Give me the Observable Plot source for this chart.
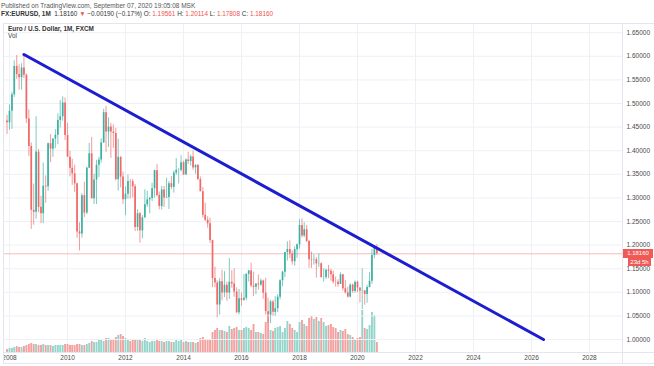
<!DOCTYPE html>
<html><head><meta charset="utf-8">
<script src="https://cdn.jsdelivr.net/npm/d3@7"></script>
<script src="https://cdn.jsdelivr.net/npm/@observablehq/plot@0.6"></script>
<style>
body{margin:0;background:#fff;font-family:"Liberation Sans",Arial,sans-serif;}
#wrap{position:relative;width:654px;height:366px;overflow:hidden;background:#fff;}
#wrap svg{position:absolute;left:0;top:0;background:transparent;}
.t{position:absolute;white-space:nowrap;line-height:1;}
.r{color:#ef5350;}
.ln{position:absolute;background:#e3e6ee;}
.tag{position:absolute;background:#ef5a57;color:#fff;font-size:6px;line-height:8px;text-align:center;}
</style></head><body><div id="wrap">
<div class="t" style="left:1px;top:2.5px;font-size:6.5px;color:#555;">Published on TradingView.com, September 07, 2020 19:05:08 MSK</div>
<div class="t" style="left:1px;top:11px;font-size:6.4px;color:#333;"><b>FX:EURUSD, 1M</b>&nbsp; 1.18160 <span class="r">▼</span> −0.00190 (−0.17%) O: <span class="r">1.19561</span> H: <span class="r">1.20114</span> L: <span class="r">1.17808</span> C: <span class="r">1.18160</span></div>
<div id="vol"></div><div id="price"></div>
<div class="ln" style="left:3px;top:23px;width:651px;height:1px;"></div>
<div class="ln" style="left:3px;top:23px;width:1px;height:341px;"></div>
<div class="ln" style="left:3px;top:352px;width:651px;height:1px;"></div>
<div class="ln" style="left:3px;top:363px;width:651px;height:1px;"></div>
<div class="ln" style="left:622px;top:23px;width:1px;height:341px;"></div>
<div style="position:absolute;left:0;top:24px;width:3px;height:342px;background:#fff;"></div>
<div class="t" style="left:8px;top:26px;font-size:6.4px;color:#333;font-weight:bold;">Euro / U.S. Dollar, 1M, FXCM</div>
<div class="t" style="left:8px;top:33px;font-size:6.4px;color:#444;">Vol</div>
</div>
<script>
// Monthly candles, Dec 2007 .. Sep 2020
const firstMonth = "2007-12-01", lastMonth = "2020-09-01";
const open = [1.4630,
1.4590,1.4836,1.5184,1.5785,1.5613,1.5548,1.5750,1.5601,1.4672,1.4090,1.2737,1.2696,
1.3970,1.2800,1.2665,1.3248,1.3235,1.4150,1.4033,1.4247,1.4330,1.4639,1.4719,1.5012,
1.4321,1.3862,1.3628,1.3510,1.3298,1.2278,1.2235,1.3048,1.2679,1.3630,1.3935,1.2984,
1.3379,1.3692,1.3804,1.4164,1.4806,1.4394,1.4501,1.4394,1.4365,1.3387,1.3859,1.3442,
1.2961,1.3080,1.3349,1.3343,1.3235,1.2374,1.2664,1.2303,1.2578,1.2856,1.2959,1.2987,
1.3193,1.3578,1.3053,1.2818,1.3169,1.2998,1.3010,1.3301,1.3222,1.3526,1.3585,1.3588,
1.3745,1.3486,1.3802,1.3771,1.3869,1.3636,1.3690,1.3389,1.3131,1.2631,1.2526,1.2452,
1.2098,1.1290,1.1196,1.0731,1.1224,1.0987,1.1150,1.0985,1.1213,1.1177,1.1006,1.0565,
1.0862,1.0830,1.0873,1.1380,1.1454,1.1131,1.1105,1.1174,1.1157,1.1240,1.0980,1.0590,
1.0517,1.0797,1.0575,1.0652,1.0895,1.1245,1.1425,1.1842,1.1907,1.1814,1.1646,1.1904,
1.2005,1.2414,1.2193,1.2324,1.2078,1.1692,1.1684,1.1690,1.1601,1.1604,1.1311,1.1313,
1.1467,1.1446,1.1371,1.1216,1.1213,1.1166,1.1370,1.1075,1.0987,1.0899,1.1153,1.1017,
1.1212,1.1093,1.1025,1.1031,1.0955,1.1101,1.1234,1.1778,1.1956];
const high = [1.4750,
1.4967,1.5240,1.5905,1.6019,1.5818,1.5845,1.6038,1.5625,1.4866,1.4165,1.3295,1.4719,
1.4027,1.3033,1.3737,1.3466,1.4162,1.4338,1.4250,1.4446,1.4780,1.5063,1.5144,1.5117,
1.4579,1.3987,1.3817,1.3694,1.3311,1.2475,1.3089,1.3334,1.3650,1.4158,1.4282,1.3501,
1.3798,1.3861,1.4250,1.4880,1.4940,1.4699,1.4578,1.4549,1.4475,1.4247,1.3873,1.3548,
1.3234,1.3487,1.3386,1.3390,1.3283,1.2747,1.2692,1.2625,1.3173,1.3140,1.3011,1.3308,
1.3588,1.3711,1.3125,1.3244,1.3243,1.3417,1.3345,1.3453,1.3568,1.3833,1.3621,1.3894,
1.3776,1.3824,1.3967,1.3907,1.3993,1.3700,1.3700,1.3444,1.3221,1.2887,1.2600,1.2570,
1.2105,1.1534,1.1245,1.1290,1.1467,1.1436,1.1216,1.1714,1.1459,1.1495,1.1095,1.1059,
1.0987,1.1376,1.1399,1.1464,1.1616,1.1428,1.1186,1.1366,1.1283,1.1257,1.1300,1.0874,
1.0829,1.0829,1.0906,1.0950,1.1268,1.1446,1.1846,1.2070,1.2092,1.1880,1.1961,1.2023,
1.2537,1.2556,1.2476,1.2414,1.2097,1.1852,1.1791,1.1734,1.1815,1.1625,1.1500,1.1486,
1.1570,1.1488,1.1448,1.1324,1.1265,1.1412,1.1380,1.1249,1.1109,1.1179,1.1175,1.1240,
1.1239,1.1096,1.1495,1.1039,1.1147,1.1422,1.1909,1.1966,1.2011];
const low = [1.4346,
1.4432,1.4450,1.5130,1.5512,1.5285,1.5283,1.5530,1.4578,1.3881,1.2330,1.2422,1.2550,
1.2684,1.2455,1.2455,1.2888,1.3140,1.3748,1.3858,1.4044,1.4125,1.4482,1.4626,1.4219,
1.3858,1.3444,1.3266,1.3117,1.2143,1.1876,1.2151,1.2588,1.2646,1.3620,1.2970,1.2861,
1.2860,1.3429,1.3736,1.4153,1.3967,1.4070,1.3837,1.4050,1.3362,1.3146,1.3213,1.2858,
1.2624,1.2974,1.2976,1.3003,1.2286,1.2288,1.2042,1.2134,1.2561,1.2802,1.2661,1.2924,
1.2998,1.3020,1.2750,1.2745,1.2796,1.2994,1.2755,1.3175,1.3103,1.3478,1.3294,1.3546,
1.3478,1.3477,1.3706,1.3672,1.3586,1.3503,1.3367,1.3130,1.2570,1.2500,1.2358,1.2035,
1.1098,1.1097,1.0458,1.0520,1.0819,1.0889,1.0809,1.0848,1.1087,1.0896,1.0557,1.0523,
1.0710,1.0810,1.0822,1.1217,1.1098,1.0912,1.0952,1.1046,1.1123,1.0852,1.0518,1.0340,
1.0340,1.0494,1.0493,1.0569,1.0839,1.1118,1.1312,1.1662,1.1717,1.1575,1.1554,1.1717,
1.1916,1.2153,1.2155,1.2055,1.1510,1.1508,1.1574,1.1301,1.1526,1.1301,1.1216,1.1269,
1.1289,1.1234,1.1176,1.1111,1.1107,1.1181,1.1028,1.0962,1.0879,1.0879,1.0981,1.0982,
1.0992,1.0778,1.0636,1.0727,1.0766,1.1098,1.1168,1.1711,1.1781];
const close = [1.4590,
1.4836,1.5184,1.5785,1.5613,1.5548,1.5750,1.5601,1.4672,1.4090,1.2737,1.2696,1.3970,
1.2800,1.2665,1.3248,1.3235,1.4150,1.4033,1.4247,1.4330,1.4639,1.4719,1.5012,1.4321,
1.3862,1.3628,1.3510,1.3298,1.2278,1.2235,1.3048,1.2679,1.3630,1.3935,1.2984,1.3379,
1.3692,1.3804,1.4164,1.4806,1.4394,1.4501,1.4394,1.4365,1.3387,1.3859,1.3442,1.2961,
1.3080,1.3349,1.3343,1.3235,1.2374,1.2664,1.2303,1.2578,1.2856,1.2959,1.2987,1.3193,
1.3578,1.3053,1.2818,1.3169,1.2998,1.3010,1.3301,1.3222,1.3526,1.3585,1.3588,1.3745,
1.3486,1.3802,1.3771,1.3869,1.3636,1.3690,1.3389,1.3131,1.2631,1.2526,1.2452,1.2098,
1.1290,1.1196,1.0731,1.1224,1.0987,1.1150,1.0985,1.1213,1.1177,1.1006,1.0565,1.0862,
1.0830,1.0873,1.1380,1.1454,1.1131,1.1105,1.1174,1.1157,1.1240,1.0980,1.0590,1.0517,
1.0797,1.0575,1.0652,1.0895,1.1245,1.1425,1.1842,1.1907,1.1814,1.1646,1.1904,1.2005,
1.2414,1.2193,1.2324,1.2078,1.1692,1.1684,1.1690,1.1601,1.1604,1.1311,1.1313,1.1467,
1.1446,1.1371,1.1216,1.1213,1.1166,1.1370,1.1075,1.0987,1.0899,1.1153,1.1017,1.1212,
1.1093,1.1025,1.1031,1.0955,1.1101,1.1234,1.1778,1.1956,1.1816];
// volume (relative units)
const volume = [3,
4,4,5,6,5,5,6,7,8,9,8,8,
7,7,8,7,7,7,6,7,7,7,7,8,
8,7,7,7,8,8,7,7,8,9,11,10,
10,12,13,11,14,14,12,13,15,17,18,16,
14,12,11,12,13,12,12,11,14,11,10,11,
11,12,11,11,10,11,11,10,10,12,11,13,
10,11,10,10,10,9,10,14,15,13,12,12,
20,22,24,22,22,21,20,26,23,24,25,22,
22,24,25,24,22,28,20,20,19,18,30,37,
22,21,24,25,26,20,24,31,28,24,22,20,
30,32,28,26,34,36,33,35,31,34,30,26,
27,28,25,24,20,22,21,23,18,17,15,13,
14,15,42,24,23,27,40,37,10];
// trend line anchor points
const trendDates = ["2008-07-01", "2026-06-01"];
const trendPrices = [1.6038, 1.0000];
const lastPrice = 1.1816;
const lastPriceLabel = "1.18160", countdownLabel = "23d 5h";
const priceTicks = [1.00,1.05,1.10,1.15,1.20,1.25,1.30,1.35,1.40,1.45,1.50,1.55,1.60,1.65];
const yearTicks = [2008,2010,2012,2014,2016,2018,2020,2022,2024,2026,2028];

const months = d3.utcMonth.range(new Date(firstMonth), d3.utcMonth.offset(new Date(lastMonth), 1));
const bars = months.map((date, i) => ({date, open: open[i], high: high[i], low: low[i], close: close[i], volume: volume[i], up: close[i] >= open[i]}));
const trend = trendDates.map((d, i) => ({date: new Date(d), price: trendPrices[i]}));
const yearDates = yearTicks.map(y => new Date(Date.UTC(y, 0, 1)));

const W = 654, H = 366, mt = 24, mb = 14, ml = 4, mr = 32;
const xDomain = [new Date("2007-10-30"), new Date("2029-02-20")];
const UP = "#3db1a1", DOWN = "#f06868", VUP = "#93d5ca", VDOWN = "#f4a0a0";

const volChart = Plot.plot({
  width: W, height: H, marginTop: mt, marginBottom: mb, marginLeft: ml, marginRight: mr,
  x: {type: "utc", domain: xDomain, axis: null},
  y: {domain: [0, 328], axis: null},
  marks: [
    Plot.gridX(yearDates, {stroke: "#eef0f5", strokeOpacity: 1}),
    Plot.ruleX(bars, {x: "date", y1: 0, y2: "volume", stroke: d => d.up ? VUP : VDOWN, strokeWidth: 1.9})
  ]
});
document.getElementById("vol").appendChild(volChart);

const priceChart = Plot.plot({
  width: W, height: H, marginTop: mt, marginBottom: mb, marginLeft: ml, marginRight: mr,
  style: {fontFamily: "Liberation Sans, Arial, sans-serif", fontSize: "6.5px", background: "transparent"},
  x: {type: "utc", domain: xDomain},
  y: {domain: [0.97246, 1.6674]},
  marks: [
    Plot.gridY(priceTicks, {stroke: "#eef0f5", strokeOpacity: 1}),
    Plot.ruleY([lastPrice], {stroke: "#f5a8a8", strokeWidth: 0.8}),
    Plot.ruleX(bars, {x: "date", y1: "low", y2: "high", stroke: d => d.up ? UP : DOWN, strokeWidth: 0.9, strokeOpacity: 0.75}),
    Plot.ruleX(bars, {x: "date", y1: "open", y2: "close", stroke: d => d.up ? UP : DOWN, strokeWidth: 1.7}),
    Plot.line(trend, {x: "date", y: "price", stroke: "#1d1dd0", strokeWidth: 3}),
    Plot.axisY(priceTicks, {anchor: "right", tickSize: 0, tickPadding: 4, tickFormat: d3.format(".5f"), fill: "#4a4a4a", label: null}),
    Plot.axisX(yearDates, {anchor: "bottom", tickSize: 0, tickPadding: 3, tickFormat: d3.utcFormat("%Y"), fill: "#4a4a4a", label: null})
  ]
});
document.getElementById("price").appendChild(priceChart);

const yy = priceChart.scale("y").apply(lastPrice);
const wrap = document.getElementById("wrap");
const t1 = document.createElement("div");
t1.className = "tag"; t1.textContent = lastPriceLabel;
t1.style.cssText = `left:623px;top:${yy - 4.5}px;width:30px;height:9px;`;
wrap.appendChild(t1);
const t2 = document.createElement("div");
t2.className = "tag"; t2.textContent = countdownLabel;
t2.style.cssText = `left:628px;top:${yy + 4.5}px;width:23px;height:8px;line-height:8px;`;
wrap.appendChild(t2);
</script>
</body></html>
